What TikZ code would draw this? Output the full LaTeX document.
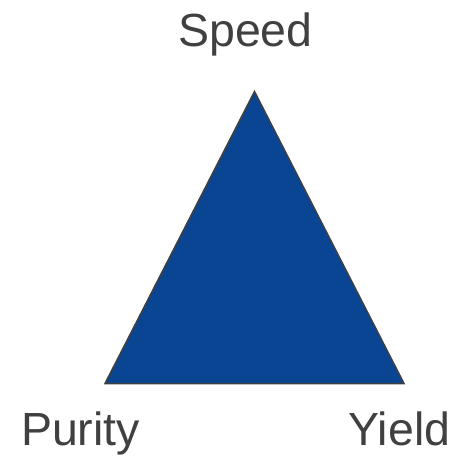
\documentclass[tikz,border=0pt]{standalone}
\usepackage{fontspec}
\setmainfont{Liberation Sans}
\usepackage{xcolor}
\usepackage{tikz}
\definecolor{triblue}{HTML}{0A4594}
\definecolor{edgegray}{HTML}{404040}
\definecolor{textgray}{HTML}{404040}

\begin{document}
\begin{tikzpicture}[
  x=1pt,y=-1pt,
  corner/.style={anchor=base,inner sep=0pt,text=textgray,
    font=\fontsize{46.5}{56}\selectfont},
  tri/.style={fill=triblue,draw=edgegray,line width=1.5pt,line join=miter}
]
\useasboundingbox (0,0) rectangle (454,457);
\coordinate (top) at (254.5,91.5);
\coordinate (left) at (105,383.5);
\coordinate (right) at (404,383.5);
\filldraw[tri] (top) -- (right) -- (left) -- cycle;
\node[corner] (speed) at (245.5,47) {Speed};
\node[corner] (purity) at (80.5,445) {Purity};
\node[corner] (yield) at (399.5,445) {Yield};
\end{tikzpicture}
\end{document}
